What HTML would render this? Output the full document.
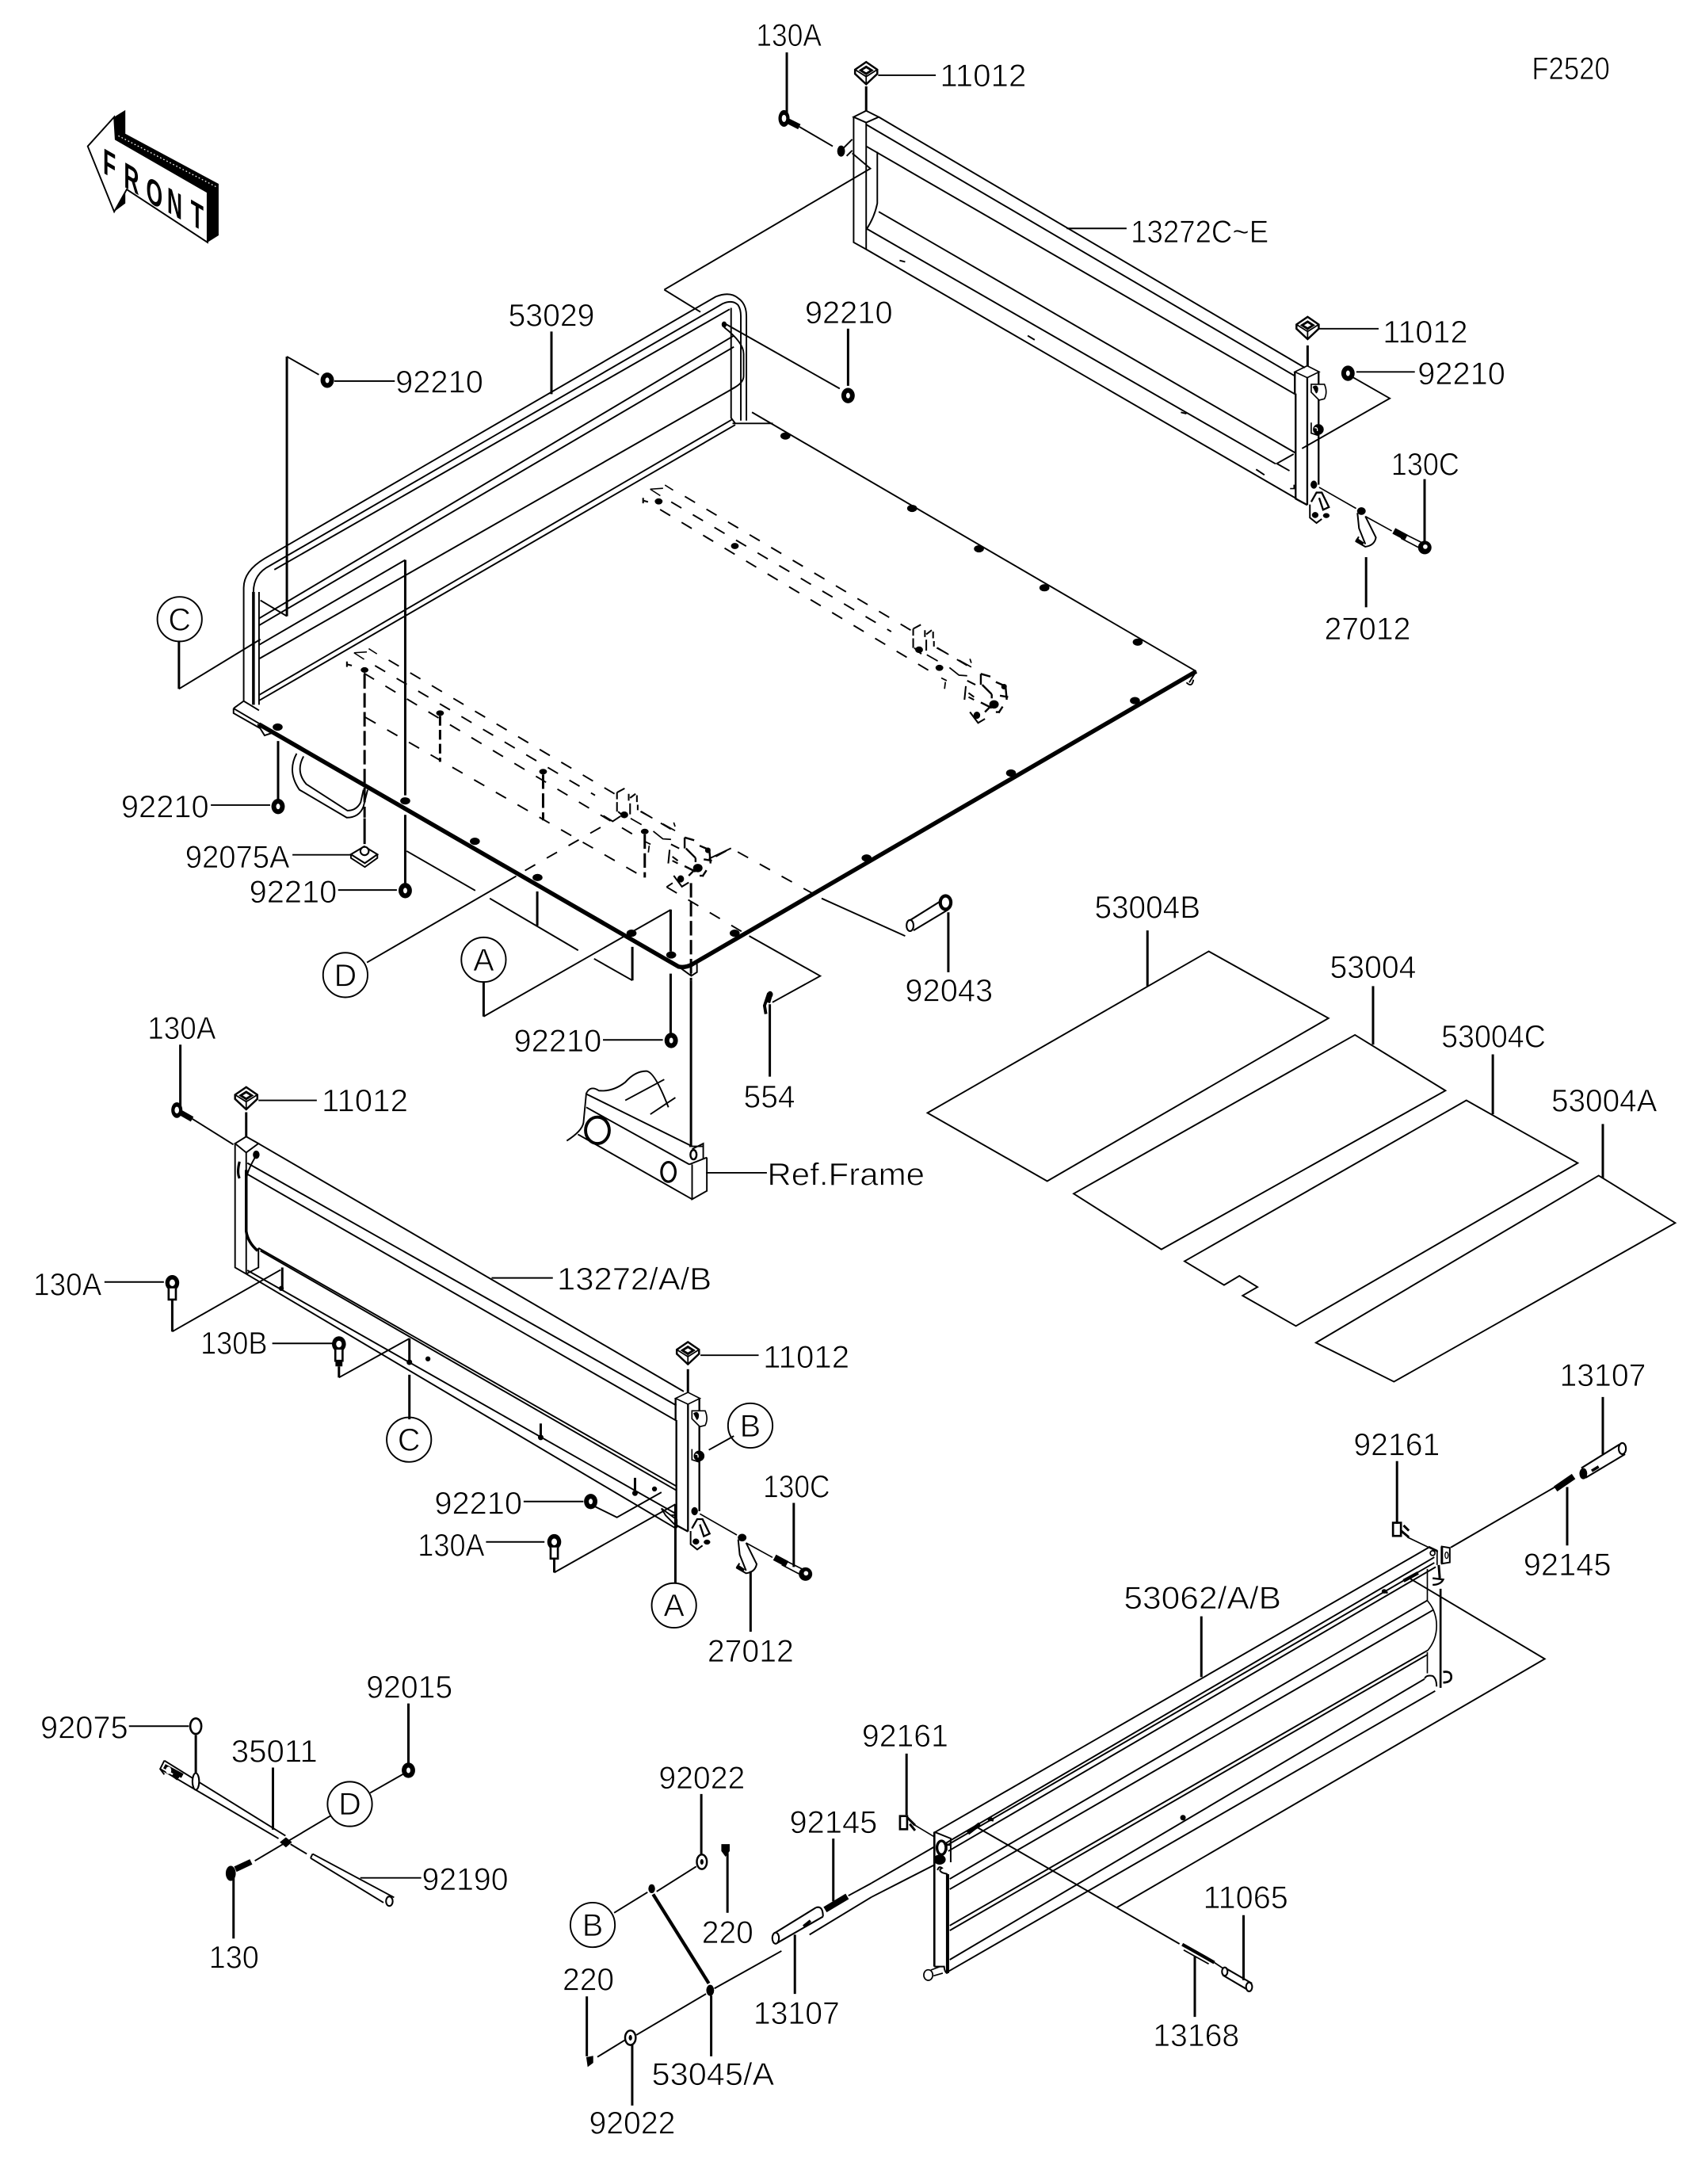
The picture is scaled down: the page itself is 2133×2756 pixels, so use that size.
<!DOCTYPE html>
<html><head><meta charset="utf-8"><title>F2520</title>
<style>
html,body{margin:0;padding:0;background:#fff}
svg{display:block}
.t,.t *{fill:none;stroke:#000;stroke-width:1.1}
.v,.v *{fill:none;stroke:#000;stroke-width:1.7}
.k,.k *{fill:none;stroke:#000;stroke-width:3.1}
.m,.m *{fill:none;stroke:#000;stroke-width:2}
.d{fill:none;stroke:#000;stroke-width:1.1;stroke-dasharray:8.5 9.5}
.vd{fill:none;stroke:#000;stroke-width:1.7;stroke-dasharray:10.4 3.2}
.f{fill:#000;stroke:none}
.w{fill:#fff;stroke:#000;stroke-width:1.1}
text.l{font-family:"Liberation Sans",sans-serif;font-size:22.5px;fill:#000;stroke:#fff;stroke-width:.45}
text.c{font-family:"Liberation Sans",sans-serif;font-size:22.5px;fill:#000;stroke:#fff;stroke-width:.45;text-anchor:middle}
text.b{font-family:"Liberation Sans",sans-serif;font-size:26px;font-weight:bold;fill:#000}
</style></head><body>
<svg xmlns="http://www.w3.org/2000/svg" width="2133" height="2756" viewBox="0 0 1213.6 1568" preserveAspectRatio="none">
<defs>
<g id="n"><ellipse rx="4.8" ry="5.5" fill="#000"/><ellipse rx="1.4" ry="2" fill="#fff"/></g>
<g id="dot"><ellipse rx="3.6" ry="2.6" fill="#000"/></g>
<g id="cap"><path d="M-8,-3L0,-8.5L8,-3L8,0L0,7.5L-8,0Z" fill="#fff" stroke="#000" stroke-width="1.4"/><path d="M-5.5,-2.5L0,-6L5.5,-2.5L0,1Z" fill="#000"/><path d="M-2.5,-2.5L0,-4L2.5,-2.5L0,-1Z" fill="#fff"/><path d="M0,1L0,7.5M-8,-3L0,2L8,-3" stroke="#000" stroke-width="1" fill="none"/></g>
<g id="vb"><ellipse rx="5" ry="5.6" fill="#000"/><ellipse rx="2" ry="2.4" fill="#fff"/><path d="M-2.6,4L-2.6,12L2.6,12L2.6,4" fill="#fff" stroke="#000" stroke-width="1.5"/></g>
<g id="rows">
<path class="d" d="M491.8,356.4L654,452.4"/>
<path class="d" d="M482,360.4L640,453.5"/>
<path class="d" d="M474,365.8L668,482"/>
<path class="d" style="stroke-dasharray:8.5 8" d="M673,465L696.5,479"/>
<g transform="translate(443.8,330) scale(.1959)" fill="none" stroke="#000" stroke-width="6">
<path d="M172,93L202,112M118,108L165,105M118,108L155,132" stroke-width="4.5"/>
<path d="M92,140V160M92,150L110,155" stroke-width="6"/>
<path d="M1082,620L1110,605M1082,620V645M1082,655V690M1086,690L1112,712M1125,625V650M1130,660V700M1155,630V655M1158,665V685M1130,640L1150,625" stroke-width="6"/>
<path d="M1132,715L1172,738M1168,690L1212,714M1185,800L1205,810M1200,815L1197,840M1250,735L1295,760M1290,730L1295,745M1215,762L1250,790L1280,792" stroke-width="5"/>
<path d="M1330,785L1365,795M1330,785V825M1335,825L1370,860M1370,860V875M1385,815L1420,830M1420,825L1425,880M1400,865L1430,870" stroke-width="7"/>
<path d="M1280,810L1310,825M1275,830L1270,880M1285,855L1305,870M1285,870L1305,880M1290,925L1320,965L1345,950" stroke-width="6"/>
<path d="M1330,890L1370,910M1345,925L1385,885M1400,925L1385,925M1410,905L1395,928" stroke-width="7"/>
</g>
<ellipse class="f" cx="713.8" cy="505.7" rx="3.4" ry="3"/>
<ellipse class="f" cx="701.5" cy="513.5" rx="2.4" ry="2.6"/>
<ellipse class="f" cx="721" cy="493" rx="2" ry="2"/>
</g>
<g id="hinge" transform="translate(910.3,250.3) scale(.18964)" fill="none" stroke="#000">
<path d="M103,88L150,65L195,88L150,110Z" stroke-width="5"/>
<path d="M103,88V170M106,170V568L150,592" stroke-width="7"/>
<path d="M150,110V592M193,88V515" stroke-width="7"/>
<path d="M165,135L215,135Q228,165 215,190L195,195L165,165Z" stroke-width="5" fill="#fff"/>
<path d="M172,145Q185,135 190,150Q190,165 184,168Z" fill="#000" stroke="#000" stroke-width="3"/>
<path d="M165,280L165,320L190,328" stroke-width="5"/>
<circle cx="192" cy="306" r="20" fill="#000"/><path d="M178,300Q190,296 188,312" stroke="#fff" stroke-width="4"/>
<ellipse cx="175" cy="515" rx="12" ry="15" fill="#000"/>
<path d="M165,580L185,545L205,545L232,600L210,610L195,565" stroke-width="7"/>
<path d="M160,590V640L185,660L205,645" stroke-width="6"/>
<ellipse cx="180" cy="630" rx="12" ry="11" fill="#000"/><ellipse cx="222" cy="632" rx="12" ry="9" fill="#000"/>
<path d="M195,525L335,605" stroke-width="5"/>
<ellipse cx="355" cy="615" rx="16" ry="14" fill="#000"/>
<path d="M340,622L346,680L370,740M370,635L410,715Q405,745 370,750L335,730L345,712" stroke-width="6"/>
<path d="M335,722L362,740" stroke="#000" stroke-width="13"/>
<path d="M370,635L470,690" stroke-width="5"/>
<path d="M478,690L525,715" stroke-width="24"/>
<path d="M525,705L585,735M505,718L570,752" stroke-width="5"/>
<circle cx="595" cy="753" r="25" fill="#000"/><circle cx="597" cy="750" r="9" fill="#fff"/>
<path d="M85,530H100V515" stroke-width="5"/>
</g>
</defs>

<!-- FRONT arrow -->
<path d="M82,84L90,79L90,96L157,132L157,169L149,174L149,138L83,100Z" fill="#000"/>
<path d="M85,97.5L155,134" stroke="#fff" stroke-width=".7" stroke-dasharray="1 1.6" fill="none"/>
<path d="M82,136L90,136L90,146L82,152Z" fill="#000"/>
<path d="M63,105L82,84L83,100L149,138L149,174L91,136L82,152Z" fill="#fff" stroke="#000" stroke-width="1.1"/>
<text class="b" transform="translate(74,124) skewY(30) scale(.58,1)">F</text>
<text class="b" transform="translate(89,134) skewY(30) scale(.58,1)">R</text>
<text class="b" transform="translate(105,144) skewY(30) scale(.58,1)">O</text>
<text class="b" transform="translate(120,152) skewY(30) scale(.58,1)">N</text>
<text class="b" transform="translate(137,161) skewY(30) scale(.58,1)">T</text>

<!-- Rear panel 13272C~E -->
<g class="t">
<path d="M613,84L622,79.5L631,84L622,88Z"/>
<path d="M613,84V174L622,179V88"/>
<path d="M630,109V146Q628,156 622,165"/>
<path d="M631,84L937,264"/><path d="M622,89.4L930,270"/><path d="M622,105L930,283"/><path d="M631,152L930,325"/><path d="M622,179L931,358"/><path d="M622,164L916,333"/>
<path d="M612,108L608,112M612,100L602,110"/>
</g>
<path class="t" d="M646,187L650,188M738,241L743,244M848,296L852,297M902,337L908,341"/>
<ellipse class="f" cx="604" cy="108.5" rx="2.8" ry="4"/>
<use href="#hinge"/>
<!-- Rear panel leaders -->
<g class="v"><path d="M565,37.6V81"/><path d="M622,62V80"/><path d="M939,248V263"/><path d="M609,236V277"/><path d="M1023,344V389"/><path d="M981,400V436"/><path d="M396,238V283"/></g>
<g class="t"><path d="M574,91L598,105"/><path d="M630.6,54H672"/><path d="M766,164H809"/><path d="M947,236H990"/><path d="M974,267H1016"/>
<path d="M477,208L625,121L612,110"/><path d="M477,208L503,224"/><path d="M520,232L603,279"/>
<path d="M970,270L998,286L935,322"/><path d="M929,326L916.9,332.8L926,338"/>
</g>
<ellipse cx="563" cy="85" rx="4" ry="6" fill="#000"/><ellipse cx="563" cy="85" rx="1.6" ry="2.6" fill="#fff"/><path d="M566,87L574,91" stroke="#000" stroke-width="4"/>
<use href="#cap" x="622" y="53"/>
<use href="#cap" x="939" y="236"/>
<use href="#n" x="609" y="284"/>
<use href="#n" x="968" y="268"/>

<!-- Main bed -->
<g class="t">
<path d="M175,503V422Q175,410 190,401L514,213Q524,209 530,214Q536,218 536,227V302"/>
<path d="M182,505V425Q182,412 194,406L519,218Q526,215 530,219Q532,222 532,227V302"/>
<path d="M197,409L524,222"/>
<path d="M525,221V300L528,304"/>
<path d="M527,241L186,444"/><path d="M527,249L186,449"/><path d="M528,278L186,473"/>
<path d="M526,301L186,499"/><path d="M528,305L186,503"/>
<path d="M520,235Q534,246 534,254V270Q534,275 526,279"/>
<path d="M540,296L859,482"/><path d="M526,304H555"/>
<path d="M186,425V506"/>
<path d="M167.7,508.6L175,503.3L186,510"/>
<path d="M167.7,508.6V512L187,523"/>
<path d="M167.7,508.6L187,520"/>
<path d="M859,482L854,490M852,490Q856,494 857,488"/>
<path d="M185,520L190,528L196,526"/>
<path d="M213,541Q206,554 215,567L249,587Q258,587 261,579L264,567"/>
<path d="M218,543Q212,554 220,563L249.5,582Q256,582 259,576L261,567"/>
<path d="M487.3,694L496.4,700.6L500.5,698V692"/>
<path d="M496.2,692V700"/>
</g>
<path class="m" d="M182,425V506"/>
<path class="k" d="M186,520L487.3,694Q492,695 496.8,692.5L859,482"/>
<g>
<use href="#dot" x="564" y="313"/><use href="#dot" x="655" y="365"/><use href="#dot" x="703" y="394"/><use href="#dot" x="750" y="422"/><use href="#dot" x="817" y="461"/>
<use href="#dot" x="815" y="503"/><use href="#dot" x="726" y="555"/><use href="#dot" x="622.3" y="616"/><use href="#dot" x="527.6" y="670"/><use href="#dot" x="482" y="685.6"/>
<use href="#dot" x="453.5" y="670"/><use href="#dot" x="386" y="630"/><use href="#dot" x="341" y="604"/><use href="#dot" x="291" y="575"/><use href="#dot" x="199.4" y="522"/>
<ellipse class="f" cx="520" cy="233" rx="1.8" ry="2.2"/>
</g>

<!-- Dashed sub-frames -->
<use href="#rows"/>
<use href="#rows" x="-212.7" y="117.5"/>
<ellipse class="f" cx="473" cy="360" rx="2.8" ry="2.2"/><ellipse class="f" cx="527.7" cy="392" rx="2.8" ry="2.2"/><ellipse class="f" cx="660" cy="466.5" rx="2.8" ry="2.4"/><ellipse class="f" cx="674.6" cy="479.5" rx="2.8" ry="2.2"/>
<ellipse class="f" cx="261.8" cy="481" rx="2.8" ry="2"/><ellipse class="f" cx="316" cy="512" rx="2.8" ry="2"/><ellipse class="f" cx="390" cy="554" rx="2.8" ry="2"/><ellipse class="f" cx="448.3" cy="585" rx="2.8" ry="2.4"/><ellipse class="f" cx="463" cy="597" rx="2.8" ry="2"/>
<path class="d" d="M262.4,515L462.6,630"/>
<path class="vd" d="M261.8,484V587"/><path class="vd" style="stroke-dasharray:7 3" d="M316,514V547"/><path class="vd" d="M390,556V589"/><path class="vd" d="M463,599V630"/>
<path class="vd" d="M496.2,634V704"/>
<path class="d" d="M377,625L433,593"/>
<path class="t" d="M433.2,585.6L440,589.7L445.6,586"/>
<path class="d" d="M478.7,636.8L538,672"/><path class="t" d="M478.7,636.8L483,634"/>
<path class="d" d="M514,615L525,609L590,645"/>
<!-- Main bed leaders -->
<g class="v">
<path d="M206,256V442.4"/><path d="M291,402V571"/><path d="M291,585V634"/><path d="M199.7,532V574"/>
<path d="M261.8,587.5V606"/><path d="M481.6,653V683"/><path d="M481.6,699V742"/><path d="M385.8,640V664.6"/><path d="M454.1,679.8V703.9"/>
<path d="M496.2,704V823"/><path d="M552.8,721V773"/><path d="M681,655V698"/><path d="M128.5,460V494.6"/><path d="M347.3,705V729.8"/>
</g>
<g class="t">
<path d="M206,256L229,269"/><path d="M240,273.6H283.5"/><path d="M206,442.4L187,431"/><path d="M291,402L186,463"/>
<path d="M128.5,494.6L187,459"/>
<path d="M151.4,578H194"/><path d="M210,613.7H252"/><path d="M242.8,639H285"/>
<path d="M292,611L341.3,639.4"/><path d="M351.7,645L415.2,682.3"/><path d="M426.6,688.3L454.1,703.9"/>
<path d="M263.5,691L370.7,629"/><path d="M347.3,729.8L481.6,653.2"/>
<path d="M433,746.6H476"/>
<path d="M538,672L589,700.7L554.7,719.6"/>
<path d="M590,645L650,672"/>
<path d="M509,616.6L525,609"/>
<path d="M507,842H550.7"/>
</g>
<use href="#n" x="235" y="273"/><use href="#n" x="199.7" y="579"/><use href="#n" x="291" y="639.4"/><use href="#n" x="482" y="747"/>
<path d="M252,613.4L261.6,607.7L271,613.4L262,619.7Z" fill="#fff" stroke="#000" stroke-width="1.2"/><path d="M252,613.4V616L262,622.5L271,616V613.4" fill="none" stroke="#000" stroke-width="1.1"/><ellipse cx="261.8" cy="611" rx="3" ry="3" fill="#fff" stroke="#000" stroke-width="1.2"/>
<path d="M552,713L549,722L550,728M554,713L552,720" stroke="#000" stroke-width="2.2" fill="none"/><ellipse class="f" cx="553" cy="714" rx="2" ry="2.4"/>
<path d="M653,661L677,646M656,668L681,653" fill="none" stroke="#000" stroke-width="1.2"/><ellipse cx="653.5" cy="664.5" rx="2.5" ry="4" fill="#fff" stroke="#000" stroke-width="1.2"/><ellipse cx="679" cy="648" rx="3.8" ry="4.8" fill="#fff" stroke="#000" stroke-width="2.4"/>

<!-- Ref.Frame -->
<g class="t">
<path d="M407,819Q418,812 419,806L421,785Q424,779 430,783Q440,784 449,777Q456,769 464,769Q470,769 480,795"/>
<path d="M421,785.4L497,823"/><path d="M421,795L495,836"/><path d="M415,814.4L497,861"/>
<path d="M449,790L477,775M467,800L485,788"/>
<path d="M495,823L505,823M495,836L507.6,831M507.6,831V855L497,861V836M497,825L505,821L505,832"/>
</g>
<ellipse cx="429" cy="811.5" rx="8.5" ry="9.5" fill="#fff" stroke="#000" stroke-width="2.2"/>
<ellipse cx="480" cy="841.4" rx="5" ry="7" fill="#fff" stroke="#000" stroke-width="1.8"/>
<ellipse cx="498" cy="829" rx="2.2" ry="3.4" fill="#fff" stroke="#000" stroke-width="1.4"/>

<!-- Mats -->
<g class="t" stroke-linejoin="miter">
<path d="M868,683L954,731L752,848L666,799Z"/>
<path d="M771,857L973,743L1038,783L834,897Z"/>
<path d="M850.6,905.5L1053,790L1133,835L930.6,952L892.3,930.2L903,924L890,916L879,922.6Z"/>
<path d="M945,964L1148,844L1203,878L1001,992Z"/>
</g>
<g class="v"><path d="M824,668V708"/><path d="M986,708V750"/><path d="M1072,757V800"/><path d="M1151,807V846"/></g>

<!-- Left side panel 13272/A/B -->
<g class="t">
<path d="M168.8,821L176.8,816L185.6,821L176.8,827.5Z"/>
<path d="M168.8,821V910L176.8,914.6"/><path d="M176.8,827.5V914.6"/><path d="M185.6,896V910L176.8,914.6"/>
<path d="M185.6,821L491,999"/><path d="M177.6,835L485.7,1009"/><path d="M177.6,843L485.7,1020"/>
<path d="M185.6,896L485.7,1067"/><path d="M187,898L485.7,1070"/><path d="M177.6,912L485.7,1087"/><path d="M176.8,914.6L485.7,1097.5"/>
<path d="M185,828Q176,842 176.8,850"/>
<path d="M475,1083L486,1091V1096L478,1088Z"/>
</g>
<path d="M172,834Q170,842 172,846" fill="none" stroke="#000" stroke-width="1.8"/>
<path class="m" d="M176.8,840V884Q178,892 185,898"/>
<ellipse class="f" cx="184" cy="829" rx="2.4" ry="3"/>
<use href="#hinge" x="-444.7" y="737"/>
<!-- Left panel leaders -->
<g class="v">
<path d="M129.5,750V796"/><path d="M176.8,798.5V816"/><path d="M494,983V999.4"/><path d="M123.7,933.5V956"/><path d="M202.7,910V925"/><path d="M243.4,981V989"/><path d="M294,961V977"/><path d="M294,987V1019"/><path d="M388.3,1022V1032"/><path d="M456,1061V1072"/><path d="M398,1119V1129"/><path d="M485,1080V1136.7"/><path d="M570,1079V1125"/><path d="M539,1128V1171.5"/>
</g>
<g class="t">
<path d="M137.7,803L167.6,821.7"/><path d="M185.6,790H227.5"/><path d="M503,973H544.8"/><path d="M353,917.5H397"/><path d="M75,920.4H117.7"/><path d="M195.5,964.5H239.5"/>
<path d="M123.7,956L201.5,911.7"/><path d="M243.4,989L294,961"/>
<path d="M376,1078H419"/><path d="M349,1107H391"/>
<path d="M427,1081.5L443,1089.4L475,1071.4"/><path d="M398,1129L485,1080"/>
<path d="M509,1041L527,1031"/>
</g>
<ellipse cx="127" cy="797" rx="4" ry="5.6" fill="#000"/><ellipse cx="127" cy="797" rx="1.6" ry="2.4" fill="#fff"/><path d="M130,799L138,803.5" stroke="#000" stroke-width="4"/>
<use href="#cap" x="176.8" y="789"/><use href="#cap" x="494" y="972"/>
<use href="#vb" x="123.7" y="921"/><use href="#vb" x="243.4" y="965"/><use href="#vb" x="398" y="1107"/>
<path d="M240.9,977H245.9V981H240.9Z" fill="#000"/>
<use href="#n" x="424.2" y="1078"/>
<ellipse class="f" cx="202" cy="925" rx="1.8" ry="1.8"/><ellipse class="f" cx="294" cy="978" rx="2" ry="2"/><ellipse class="f" cx="307.3" cy="975.6" rx="1.8" ry="1.8"/><ellipse class="f" cx="388.3" cy="1032" rx="2" ry="2"/><ellipse class="f" cx="456" cy="1072" rx="2" ry="2"/><ellipse class="f" cx="470" cy="1069" rx="1.8" ry="1.8"/>

<!-- Tailgate 53062 -->
<g class="t">
<path d="M670.8,1315.8L1026,1111"/>
<path d="M678,1324L1030,1118"/>
<path d="M678,1326L1030,1122"/><path d="M681,1329L1031,1125"/>
<path d="M682,1349L1025,1149"/><path d="M682,1356.4L1029,1156"/>
<path d="M682,1382.5L1025,1185"/><path d="M682,1386L1025,1188"/>
<path d="M682,1407L1023,1205.4"/><path d="M680,1416L1030.6,1214"/>
<path d="M1012,1133L1109.3,1191L802,1369.5"/>
<path d="M700.8,1311.4L847,1395.6"/>
<path d="M1041.8,1111L1116.8,1067.5"/>
<path d="M625.8,1352L670.8,1326"/><path d="M625.8,1362L670.8,1339"/>
<path d="M609.2,1361L625.8,1352"/><path d="M581.3,1389L625.8,1362"/>
</g>
<!-- Tailgate left end (crop coordinates) -->
<g transform="translate(637.2,1285.8) scale(.18964)" fill="none" stroke="#000">
<path d="M48,95H75V145H48Z" stroke-width="8" fill="#fff"/><path d="M75,100L105,130M85,125L105,150" stroke-width="9"/>
<path d="M105,130L180,175" stroke-width="5"/>
<path d="M178,155V665" stroke-width="8"/><path d="M228,315V690" stroke-width="12"/>
<path d="M178,155L240,180V270" stroke-width="6"/>
<ellipse cx="205" cy="215" rx="17" ry="26" fill="#fff" stroke-width="10"/>
<ellipse cx="198" cy="260" rx="22" ry="18" fill="#000" stroke-width="2"/>
<path d="M222,205H238M225,225V195" stroke-width="5"/>
<path d="M190,300Q195,282 207,292Q190,300 210,310L228,315" stroke-width="6"/>
<path d="M178,665H215Q218,690 228,690" stroke-width="6"/>
<ellipse cx="155" cy="697" rx="17" ry="20" fill="#fff" stroke-width="5"/>
<path d="M165,678L200,665M175,700L210,690" stroke-width="5"/>
<path d="M305,160L350,125" stroke-width="15"/><path d="M382,105L402,112" stroke-width="9"/>
</g>
<!-- Tailgate right end (crop coordinates) -->
<g transform="translate(989.9,1092.3) scale(.18964)" fill="none" stroke="#000">
<path d="M55,5H85V55H55Z" stroke-width="8" fill="#fff"/><path d="M85,35L115,60M95,15L115,35" stroke-width="9"/>
<path d="M110,60L225,115" stroke-width="5"/>
<path d="M190,95L222,110V165" stroke-width="5"/>
<circle cx="205" cy="120" r="9" stroke-width="5"/>
<path d="M240,95L270,100V155L240,160Z" stroke-width="6" fill="#fff"/><path d="M240,95V160" stroke-width="9"/><ellipse cx="258" cy="128" rx="6" ry="12" stroke-width="4"/>
<path d="M228,165L232,215" stroke-width="9"/>
<path d="M185,180V300" stroke-width="5"/><path d="M235,255V630" stroke-width="8"/>
<path d="M205,215L245,220Q235,240 205,240" stroke-width="7"/>
<path d="M185,300Q220,340 220,395Q220,450 185,490" stroke-width="5"/>
<path d="M185,495V575" stroke-width="5"/>
<path d="M175,595Q180,580 205,585Q220,595 220,625" stroke-width="6"/>
<path d="M245,570Q280,565 275,595Q270,610 245,610" stroke-width="8"/>
<path d="M95,225L150,195" stroke-width="13"/><path d="M15,265L35,270" stroke-width="8"/>
</g>
<ellipse class="f" cx="711" cy="1306" rx="1.8" ry="1.6"/><ellipse class="f" cx="994" cy="1142.5" rx="1.8" ry="1.6"/><ellipse class="f" cx="849.5" cy="1305" rx="2" ry="2"/>
<!-- Tailgate leaders and pins -->
<g class="v">
<path d="M1003.2,1049V1094"/><path d="M651,1259V1303"/><path d="M862.7,1160.4V1204"/><path d="M1151,1003V1044"/><path d="M1125.4,1067.6V1109.6"/><path d="M893,1375V1421.7"/><path d="M858,1404.3V1448"/>
<path d="M598.4,1320V1365"/><path d="M570.8,1389V1431.5"/><path d="M510.7,1432.7V1476.3"/><path d="M503.6,1288V1333"/><path d="M522.4,1330.3V1373.3"/><path d="M421.4,1433.3V1476.3"/><path d="M454,1467.3V1511.7"/>
</g>
<path d="M1117,1069L1130,1060" stroke="#000" stroke-width="4.5"/>
<path d="M1135.6,1054L1163,1037M1138.6,1061L1167,1044" fill="none" stroke="#000" stroke-width="1.2"/><ellipse cx="1137" cy="1058" rx="2.8" ry="4" fill="#000"/><ellipse cx="1165" cy="1040" rx="2.6" ry="4" fill="#fff" stroke="#000" stroke-width="1.2"/>
<path d="M1143,1056L1148,1053" stroke="#000" stroke-width="2"/>
<path d="M849,1396L872,1409" stroke="#000" stroke-width="2.4"/><path d="M850,1400L868,1410" stroke="#000" stroke-width="1"/><path d="M872,1409L881,1415" stroke="#000" stroke-width="1"/>
<path d="M880,1413L899,1424M878,1418L895,1428" fill="none" stroke="#000" stroke-width="1.2"/><ellipse cx="897" cy="1426.5" rx="2.2" ry="3.2" fill="#fff" stroke="#000" stroke-width="1.2"/><ellipse cx="879.5" cy="1415.5" rx="2" ry="3" fill="#fff" stroke="#000" stroke-width="1.2"/>

<!-- Bottom left 35011 -->
<g class="v"><path d="M140.6,1245.7V1274"/><path d="M196,1269V1313.6"/><path d="M293.3,1223V1267.5"/><path d="M167.7,1348V1391.8"/></g>
<g class="t">
<path d="M92.6,1239.3H135.6"/><path d="M258.7,1348.2H302.5"/>
<path d="M118,1264L205,1318"/><path d="M115,1270L200,1320"/><path d="M118,1264L115,1270L118,1274"/>
<path d="M208.6,1324L220.3,1331"/>
<path d="M224.5,1331L283,1362.3"/><path d="M223,1334L275.4,1366"/><path d="M224.5,1331L223,1334"/>
<path d="M290,1273.4L265.8,1287.2"/><path d="M237.8,1303.4L183,1336"/>
<path d="M500,1340L471.5,1358"/><path d="M441,1373.3L465,1358.5"/>
<path d="M429,1476.8L448.6,1464.8"/><path d="M457,1461L507,1431.5"/><path d="M513,1427.6L561.2,1400.7"/>
</g>
<ellipse cx="140.6" cy="1239.3" rx="4" ry="5.6" fill="#fff" stroke="#000" stroke-width="1.5"/>
<ellipse cx="140.6" cy="1279" rx="2.4" ry="6" fill="#fff" stroke="#000" stroke-width="1.2"/>
<path d="M118,1268L131,1275" stroke="#000" stroke-width="3.4"/><ellipse cx="121" cy="1271" rx="2" ry="2.6" fill="#fff"/>
<path d="M124,1274L128,1277" stroke="#000" stroke-width="3"/>
<path d="M202,1322.6L205.3,1320L208.6,1322.6L205.3,1325.4Z" fill="#000" stroke="#000" stroke-width="1.4"/>
<ellipse cx="279.6" cy="1365" rx="2.4" ry="3.4" fill="#fff" stroke="#000" stroke-width="1.2"/>
<use href="#n" x="293.3" y="1271"/>
<ellipse cx="165.7" cy="1345" rx="3.6" ry="5.4" fill="#000"/><path d="M169,1342L180.3,1336.7" stroke="#000" stroke-width="4.2"/>
<!-- Strut -->
<path d="M469,1360L509,1424" stroke="#000" stroke-width="2.4"/>
<ellipse cx="468" cy="1356" rx="2.4" ry="3.2" fill="#000"/><ellipse cx="510" cy="1429" rx="2.8" ry="4" fill="#000"/>
<ellipse cx="504" cy="1336.7" rx="3.6" ry="5.2" fill="#fff" stroke="#000" stroke-width="1.4"/><ellipse cx="504" cy="1336.7" rx="1.2" ry="2" fill="#000"/>
<ellipse cx="452.7" cy="1463" rx="3.8" ry="5.2" fill="#fff" stroke="#000" stroke-width="1.4"/><ellipse cx="452.7" cy="1463" rx="1.2" ry="2" fill="#000"/>
<path d="M518,1324L524,1324L524,1329L521,1333L518,1329Z" fill="#000"/>
<path d="M421,1477L426,1476L426,1481L422,1484Z" fill="#000"/>
<!-- Pin 13107 -->
<path d="M556,1388L586,1369.5M558,1395L591,1376" fill="none" stroke="#000" stroke-width="1.2"/><ellipse cx="557" cy="1391.5" rx="2.4" ry="4" fill="#fff" stroke="#000" stroke-width="1.2"/><path d="M586,1369.5Q591,1368 591,1376" fill="none" stroke="#000" stroke-width="1.2"/>
<path d="M577,1383L582,1379" stroke="#000" stroke-width="2"/>
<path d="M592.5,1371L608.4,1361.5" stroke="#000" stroke-width="4.5"/>

<!-- Balloons -->
<g class="t" style="stroke-width:1.2">
<circle cx="129" cy="444.5" r="16" fill="#fff"/>
<circle cx="248" cy="700" r="16"/>
<circle cx="347.3" cy="689" r="16"/>
<circle cx="293.7" cy="1033.6" r="16"/>
<circle cx="538.8" cy="1023.5" r="16"/>
<circle cx="484" cy="1152.6" r="16"/>
<circle cx="251.2" cy="1295.2" r="16"/>
<circle cx="425.6" cy="1382" r="16"/>
</g>
<text class="c" x="129" y="452.5">C</text><text class="c" x="248" y="708">D</text><text class="c" x="347.3" y="697">A</text><text class="c" x="293.7" y="1041.5">C</text><text class="c" x="538.8" y="1031.5">B</text><text class="c" x="484" y="1160.5">A</text><text class="c" x="251.2" y="1303">D</text><text class="c" x="425.6" y="1390">B</text>

<!-- Labels -->
<g>
<text class="l" x="543" y="33" textLength="47" lengthAdjust="spacingAndGlyphs">130A</text>
<text class="l" x="675" y="62" textLength="62" lengthAdjust="spacingAndGlyphs">11012</text>
<text class="l" x="1100" y="57" textLength="56" lengthAdjust="spacingAndGlyphs">F2520</text>
<text class="l" x="812" y="174" textLength="99" lengthAdjust="spacingAndGlyphs">13272C~E</text>
<text class="l" x="578" y="232" textLength="63" lengthAdjust="spacingAndGlyphs">92210</text>
<text class="l" x="365" y="234" textLength="62" lengthAdjust="spacingAndGlyphs">53029</text>
<text class="l" x="284" y="282" textLength="63" lengthAdjust="spacingAndGlyphs">92210</text>
<text class="l" x="993" y="246" textLength="61" lengthAdjust="spacingAndGlyphs">11012</text>
<text class="l" x="1018" y="276" textLength="63" lengthAdjust="spacingAndGlyphs">92210</text>
<text class="l" x="999" y="341" textLength="49" lengthAdjust="spacingAndGlyphs">130C</text>
<text class="l" x="951" y="459" textLength="62" lengthAdjust="spacingAndGlyphs">27012</text>
<text class="l" x="87" y="587" textLength="63" lengthAdjust="spacingAndGlyphs">92210</text>
<text class="l" x="133" y="623" textLength="75" lengthAdjust="spacingAndGlyphs">92075A</text>
<text class="l" x="179" y="648" textLength="63" lengthAdjust="spacingAndGlyphs">92210</text>
<text class="l" x="369" y="755" textLength="63" lengthAdjust="spacingAndGlyphs">92210</text>
<text class="l" x="534" y="795" textLength="37" lengthAdjust="spacingAndGlyphs">554</text>
<text class="l" x="650" y="719" textLength="63" lengthAdjust="spacingAndGlyphs">92043</text>
<text class="l" x="786" y="659" textLength="76" lengthAdjust="spacingAndGlyphs">53004B</text>
<text class="l" x="955" y="702" textLength="62" lengthAdjust="spacingAndGlyphs">53004</text>
<text class="l" x="1035" y="752" textLength="75" lengthAdjust="spacingAndGlyphs">53004C</text>
<text class="l" x="1114" y="798" textLength="76" lengthAdjust="spacingAndGlyphs">53004A</text>
<text class="l" x="551" y="851" textLength="113" lengthAdjust="spacingAndGlyphs">Ref.Frame</text>
<text class="l" x="106" y="746" textLength="49" lengthAdjust="spacingAndGlyphs">130A</text>
<text class="l" x="231" y="798" textLength="62" lengthAdjust="spacingAndGlyphs">11012</text>
<text class="l" x="400" y="926" textLength="111" lengthAdjust="spacingAndGlyphs">13272/A/B</text>
<text class="l" x="24" y="930" textLength="49" lengthAdjust="spacingAndGlyphs">130A</text>
<text class="l" x="144" y="972" textLength="48" lengthAdjust="spacingAndGlyphs">130B</text>
<text class="l" x="548" y="982" textLength="62" lengthAdjust="spacingAndGlyphs">11012</text>
<text class="l" x="1120" y="995" textLength="62" lengthAdjust="spacingAndGlyphs">13107</text>
<text class="l" x="972" y="1045" textLength="62" lengthAdjust="spacingAndGlyphs">92161</text>
<text class="l" x="1094" y="1131" textLength="63" lengthAdjust="spacingAndGlyphs">92145</text>
<text class="l" x="312" y="1087" textLength="63" lengthAdjust="spacingAndGlyphs">92210</text>
<text class="l" x="300" y="1117" textLength="48" lengthAdjust="spacingAndGlyphs">130A</text>
<text class="l" x="548" y="1075" textLength="48" lengthAdjust="spacingAndGlyphs">130C</text>
<text class="l" x="508" y="1193" textLength="62" lengthAdjust="spacingAndGlyphs">27012</text>
<text class="l" x="807" y="1155" textLength="113" lengthAdjust="spacingAndGlyphs">53062/A/B</text>
<text class="l" x="263" y="1219" textLength="62" lengthAdjust="spacingAndGlyphs">92015</text>
<text class="l" x="29" y="1248" textLength="63" lengthAdjust="spacingAndGlyphs">92075</text>
<text class="l" x="166" y="1265" textLength="62" lengthAdjust="spacingAndGlyphs">35011</text>
<text class="l" x="619" y="1254" textLength="62" lengthAdjust="spacingAndGlyphs">92161</text>
<text class="l" x="473" y="1284" textLength="62" lengthAdjust="spacingAndGlyphs">92022</text>
<text class="l" x="567" y="1316" textLength="63" lengthAdjust="spacingAndGlyphs">92145</text>
<text class="l" x="303" y="1357" textLength="62" lengthAdjust="spacingAndGlyphs">92190</text>
<text class="l" x="864" y="1370" textLength="61" lengthAdjust="spacingAndGlyphs">11065</text>
<text class="l" x="504" y="1395" textLength="37" lengthAdjust="spacingAndGlyphs">220</text>
<text class="l" x="150" y="1413" textLength="36" lengthAdjust="spacingAndGlyphs">130</text>
<text class="l" x="404" y="1429" textLength="37" lengthAdjust="spacingAndGlyphs">220</text>
<text class="l" x="541" y="1453" textLength="62" lengthAdjust="spacingAndGlyphs">13107</text>
<text class="l" x="828" y="1469" textLength="62" lengthAdjust="spacingAndGlyphs">13168</text>
<text class="l" x="468" y="1497" textLength="88" lengthAdjust="spacingAndGlyphs">53045/A</text>
<text class="l" x="423" y="1532" textLength="62" lengthAdjust="spacingAndGlyphs">92022</text>
</g>
</svg>
</body></html>
